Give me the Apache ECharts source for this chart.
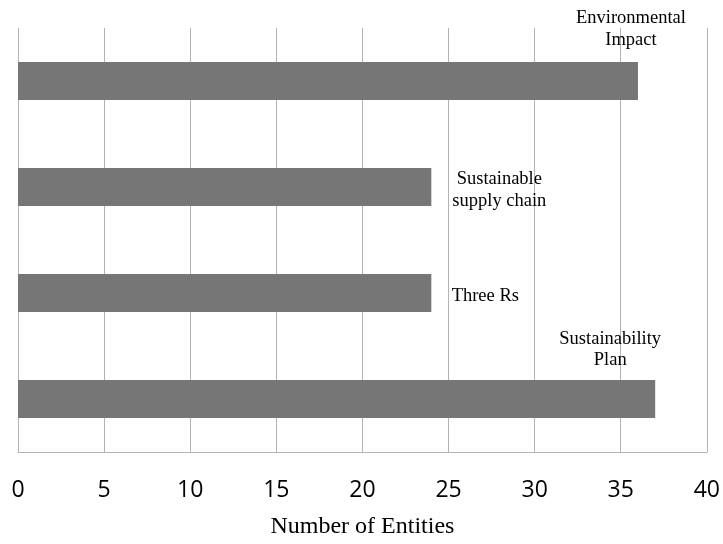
<!DOCTYPE html>
<html>
<head>
<meta charset="utf-8">
<script src="https://cdn.jsdelivr.net/npm/echarts@6/dist/echarts.min.js"></script>
<style>
  html, body { margin: 0; padding: 0; background: #ffffff; overflow: hidden; }
  #chart { width: 723px; height: 544px; }
</style>
</head>
<body>
<div id="chart"></div>
<script>
// Topics and how many entities mention each one (top to bottom)
const categories = ['Environmental\nImpact', 'Sustainable\nsupply chain', 'Three Rs', 'Sustainability\nPlan'];
const entityCounts = [36, 24, 24, 37];
const xTicks = [0, 5, 10, 15, 20, 25, 30, 35, 40];

// Label placement relative to each bar's end
const labelOffsets = [[-7, -52], [68, 3], [54, 3], [-45, -49.5]];

const serif = '"Liberation Serif", "Times New Roman", serif';
const sans = '"Open Sans", "Liberation Sans", Arial, sans-serif';

const chart = echarts.init(document.getElementById('chart'), null, { renderer: 'canvas', width: 723, height: 544 });

chart.setOption({
  animation: false,
  backgroundColor: '#ffffff',
  grid: { left: 18, width: 689, top: 28, height: 429, containLabel: false },
  xAxis: {
    type: 'value',
    min: xTicks[0],
    max: xTicks[xTicks.length - 1],
    interval: xTicks[1] - xTicks[0],
    name: 'Number of Entities',
    nameLocation: 'middle',
    nameGap: 63,
    nameTextStyle: { fontFamily: serif, fontSize: 24, color: '#000000' },
    axisLine: { show: true, lineStyle: { color: '#b3b3b3', width: 1 } },
    axisTick: { show: false },
    axisLabel: { fontFamily: sans, fontSize: 23, color: '#000000', margin: 27 },
    splitLine: { show: true, lineStyle: { color: '#b3b3b3', width: 1 } }
  },
  yAxis: {
    type: 'category',
    inverse: true,
    data: categories,
    axisLine: { show: false },
    axisTick: { show: false },
    axisLabel: { show: false },
    splitLine: { show: false }
  },
  series: [{
    type: 'bar',
    barWidth: 38,
    itemStyle: { color: '#767676' },
    data: entityCounts.map((v, i) => ({
      value: v,
      label: {
        show: true,
        position: 'right',
        distance: 0,
        align: 'center',
        verticalAlign: 'middle',
        offset: labelOffsets[i],
        formatter: () => categories[i],
        fontFamily: serif,
        fontSize: 18.5,
        lineHeight: 21.5,
        color: '#000000'
      }
    }))
  }]
});
</script>
</body>
</html>
